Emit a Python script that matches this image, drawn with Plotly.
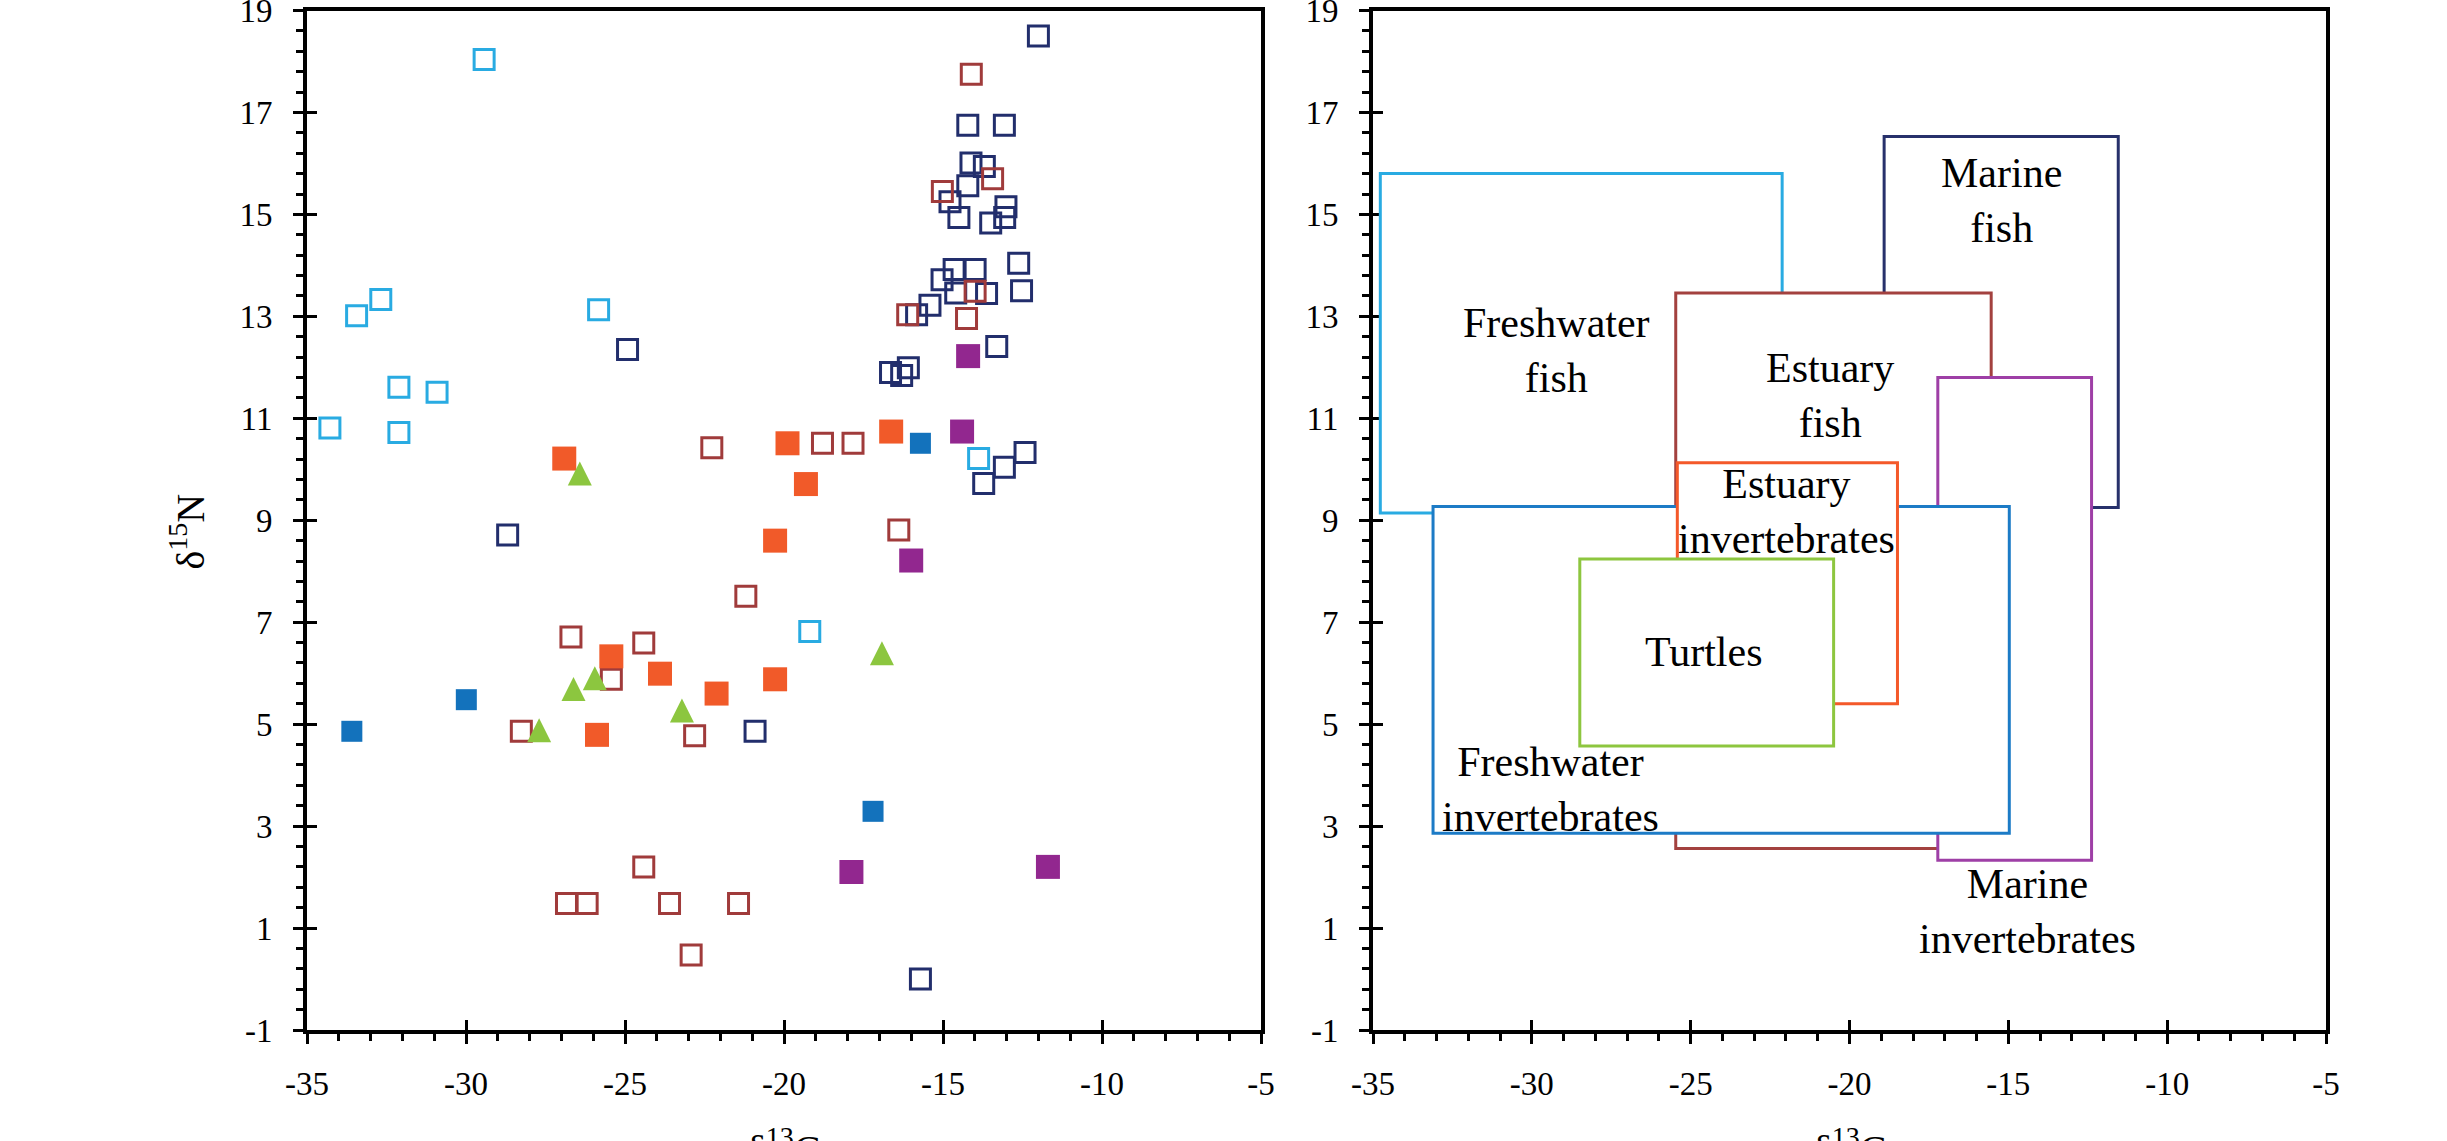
import plotly.graph_objects as go

# ---- stable isotope values (δ13C, δ15N in ‰) for each sample group ----
fw_fish_c = [-29.43, -33.44, -32.68, -32.11, -30.91, -34.28, -32.11, -25.83, -19.19, -13.88]
fw_fish_n = [18.04, 13.01, 13.33, 11.61, 11.51, 10.81, 10.72, 13.13, 6.82, 10.21]

marine_fish_c = [-12.0, -14.22, -13.07, -14.12, -13.70, -14.22, -14.78, -14.50, -13.02, -13.50,
                 -13.06, -12.62, -14.65, -13.99, -15.03, -14.60, -13.63, -12.53, -15.41, -15.83,
                 -13.31, -16.65, -16.30, -16.09, -12.42, -13.07, -13.72, -20.91, -15.71, -24.92,
                 -28.69]
marine_fish_n = [18.50, 16.75, 16.75, 16.01, 15.94, 15.56, 15.25, 14.94, 15.15, 14.83,
                 14.94, 14.04, 13.92, 13.92, 13.72, 13.46, 13.45, 13.50, 13.22, 13.03,
                 12.41, 11.90, 11.84, 11.99, 10.33, 10.04, 9.72, 4.86, 0.00, 12.35,
                 8.71]

est_fish_c = [-14.11, -15.02, -13.44, -13.99, -16.11, -14.26, -22.27, -18.79, -17.83, -16.39,
              -21.20, -26.70, -24.41, -25.43, -28.26, -22.81, -24.41, -26.84, -26.19, -23.60,
              -21.43, -22.92]
est_fish_n = [17.75, 15.45, 15.70, 13.49, 13.03, 12.96, 10.42, 10.51, 10.51, 8.81,
              7.51, 6.71, 6.59, 5.88, 4.86, 4.77, 2.20, 1.48, 1.48, 1.48,
              1.48, 0.47]

fw_inv_c = [-33.59, -29.99, -15.71, -17.20]
fw_inv_n = [4.86, 5.48, 10.51, 3.29]

est_inv_c = [-26.91, -19.89, -16.63, -19.31, -20.28, -25.43, -23.90, -22.12, -20.28, -25.88]
est_inv_n = [10.21, 10.51, 10.74, 9.71, 8.60, 6.33, 5.99, 5.60, 5.88, 4.79]

marine_inv_c = [-14.21, -14.40, -16.00, -17.88, -11.70]
marine_inv_n = [12.22, 10.74, 8.21, 2.10, 2.20]

turtle_c = [-26.42, -26.62, -25.95, -27.70, -23.21, -16.92]
turtle_n = [9.84, 5.61, 5.82, 4.80, 5.19, 6.31]

# ---- isotopic niche boxes (δ13C range, δ15N range), back to front ----
box_names = ["Freshwater<br>fish", "Marine<br>fish", "Estuary<br>fish", "Marine<br>invertebrates",
             "Freshwater<br>invertebrates", "Estuary<br>invertebrates", "Turtles"]
box_c_min = [-34.77, -18.91, -25.47, -17.22, -33.11, -25.42, -28.49]
box_c_max = [-22.12, -11.54, -15.54, -12.38, -14.97, -18.49, -20.50]
box_n_min = [9.14, 9.25, 2.56, 2.33, 2.86, 5.40, 4.57]
box_n_max = [15.80, 16.53, 13.46, 11.80, 9.27, 10.13, 8.24]
# where each box's name is written
label_c = [-29.23, -15.21, -20.62, -14.41, -29.40, -21.98, -24.59]
label_n = [12.33, 15.27, 11.45, 1.33, 3.71, 9.18, 6.41]

# ---- axis ticks ----
x_ticks = [-35, -30, -25, -20, -15, -10, -5]
y_ticks = [-1, 1, 3, 5, 7, 9, 11, 13, 15, 17, 19]

SERIF = "Liberation Serif, Times New Roman, serif"
C_LBLUE = "#29ABE2"
C_NAVY = "#222E6C"
C_BROWN = "#A03B3B"
C_BLUE = "#1372BC"
C_ORANGE = "#F15A29"
C_PURPLE = "#92278F"
C_GREEN = "#8CC63F"
box_colors = [C_LBLUE, "#27316B", "#A3413F", "#9E3FA6", "#1C7BC6", "#F4592A", "#8DC63F"]

fig = go.Figure()


def open_sq(xs, ys, color):
    return go.Scatter(x=xs, y=ys, mode="markers", xaxis="x", yaxis="y",
                      marker=dict(symbol="square-open", size=20, color=color,
                                  line=dict(width=3, color=color)),
                      showlegend=False, hoverinfo="skip")


def filled_sq(xs, ys, color, size):
    return go.Scatter(x=xs, y=ys, mode="markers", xaxis="x", yaxis="y",
                      marker=dict(symbol="square", size=size, color=color, line=dict(width=0)),
                      showlegend=False, hoverinfo="skip")


fig.add_trace(open_sq(fw_fish_c, fw_fish_n, C_LBLUE))
fig.add_trace(open_sq(marine_fish_c, marine_fish_n, C_NAVY))
fig.add_trace(open_sq(est_fish_c, est_fish_n, C_BROWN))
fig.add_trace(filled_sq(fw_inv_c, fw_inv_n, C_BLUE, 21))
fig.add_trace(filled_sq(est_inv_c, est_inv_n, C_ORANGE, 24))
fig.add_trace(filled_sq(marine_inv_c, marine_inv_n, C_PURPLE, 24))
# upward triangles centred on their centroid
fig.add_trace(go.Scatter(x=turtle_c, y=turtle_n, mode="markers", xaxis="x", yaxis="y",
                         marker=dict(symbol="arrow-down", angle=180, standoff=16, size=24,
                                     color=C_GREEN, line=dict(width=0)),
                         showlegend=False, hoverinfo="skip"))

# empty traces so every axis (incl. the tick-overlay ones) gets drawn
for xa, ya in [("x2", "y2"), ("x3", "y"), ("x", "y3"), ("x4", "y2"), ("x2", "y4")]:
    fig.add_trace(go.Scatter(x=[None], y=[None], xaxis=xa, yaxis=ya, mode="markers",
                             showlegend=False, hoverinfo="skip"))

# niche boxes, white-filled so later ones cover earlier ones
for i in range(len(box_names)):
    fig.add_shape(type="rect", xref="x2", yref="y2",
                  x0=box_c_min[i], x1=box_c_max[i], y0=box_n_min[i], y1=box_n_max[i],
                  fillcolor="white", line=dict(color=box_colors[i], width=3), layer="above")
    fig.add_annotation(x=label_c[i], y=label_n[i], xref="x2", yref="y2", text=box_names[i],
                       showarrow=False, font=dict(family=SERIF, size=42, color="black"),
                       xanchor="center", yanchor="middle", align="center")

W, H = 2447, 1141
left_dom = [307 / W, 1261 / W]
right_dom = [1373 / W, 2326 / W]
y_dom = [1 - 1030 / H, 1 - 10.5 / H]

tick_font = dict(family=SERIF, size=33, color="black")


def main_x(domain, anchor):
    return dict(domain=domain, anchor=anchor, range=[-35, -5], tickmode="array",
                tickvals=x_ticks, ticktext=[f"{v:g}" for v in x_ticks],
                ticks="outside", ticklen=10, tickwidth=3, tickcolor="black",
                minor=dict(tickmode="linear", tick0=-35, dtick=1, ticks="outside",
                           ticklen=7, tickwidth=3, tickcolor="black", showgrid=False),
                showline=True, linewidth=4, linecolor="black", mirror=True,
                showgrid=False, zeroline=False, tickfont=tick_font,
                ticklabelstandoff=11, ticklabeloverflow="allow", fixedrange=True)


def main_y(anchor):
    return dict(domain=y_dom, anchor=anchor, range=[-1, 19], tickmode="array",
                tickvals=y_ticks, ticktext=[f"{v:g}" for v in y_ticks],
                ticks="outside", ticklen=10, tickwidth=3, tickcolor="black",
                minor=dict(tickmode="linear", tick0=-1, dtick=0.4, ticks="outside",
                           ticklen=7, tickwidth=3, tickcolor="black", showgrid=False),
                showline=True, linewidth=4, linecolor="black", mirror=True,
                showgrid=False, zeroline=False, tickfont=tick_font,
                ticklabelstandoff=14, ticklabeloverflow="allow", fixedrange=True)


def inner_x(over, anchor):
    return dict(overlaying=over, anchor=anchor, side="bottom", range=[-35, -5],
                tickmode="array", tickvals=x_ticks, ticks="inside", ticklen=10,
                tickwidth=3, tickcolor="black", showticklabels=False, showline=False,
                showgrid=False, zeroline=False, fixedrange=True)


def inner_y(over, anchor):
    return dict(overlaying=over, anchor=anchor, side="left", range=[-1, 19],
                tickmode="array", tickvals=y_ticks, ticks="inside", ticklen=10,
                tickwidth=3, tickcolor="black", showticklabels=False, showline=False,
                showgrid=False, zeroline=False, fixedrange=True)


fig.update_layout(
    width=W, height=H, autosize=False,
    margin=dict(l=0, r=0, t=0, b=0, autoexpand=False),
    paper_bgcolor="white", plot_bgcolor="white",
    showlegend=False,
    xaxis=main_x(left_dom, "y"), yaxis=main_y("x"),
    xaxis2=main_x(right_dom, "y2"), yaxis2=main_y("x2"),
    xaxis3=inner_x("x", "y"), yaxis3=inner_y("y", "x"),
    xaxis4=inner_x("x2", "y2"), yaxis4=inner_y("y2", "x2"),
)

title_font = dict(family=SERIF, size=40, color="black")
for dom in (left_dom, right_dom):
    fig.add_annotation(x=(dom[0] + dom[1]) / 2, y=1 - 1119 / H, xref="paper", yref="paper",
                       text="δ<sup>13</sup>C", showarrow=False, font=title_font,
                       xanchor="center", yanchor="top")
fig.add_annotation(x=187.5 / W, y=1 - 531 / H, xref="paper", yref="paper",
                   text="δ<sup>15</sup>N", textangle=-90, showarrow=False, font=title_font,
                   xanchor="center", yanchor="middle")

fig.write_html("out.html")
